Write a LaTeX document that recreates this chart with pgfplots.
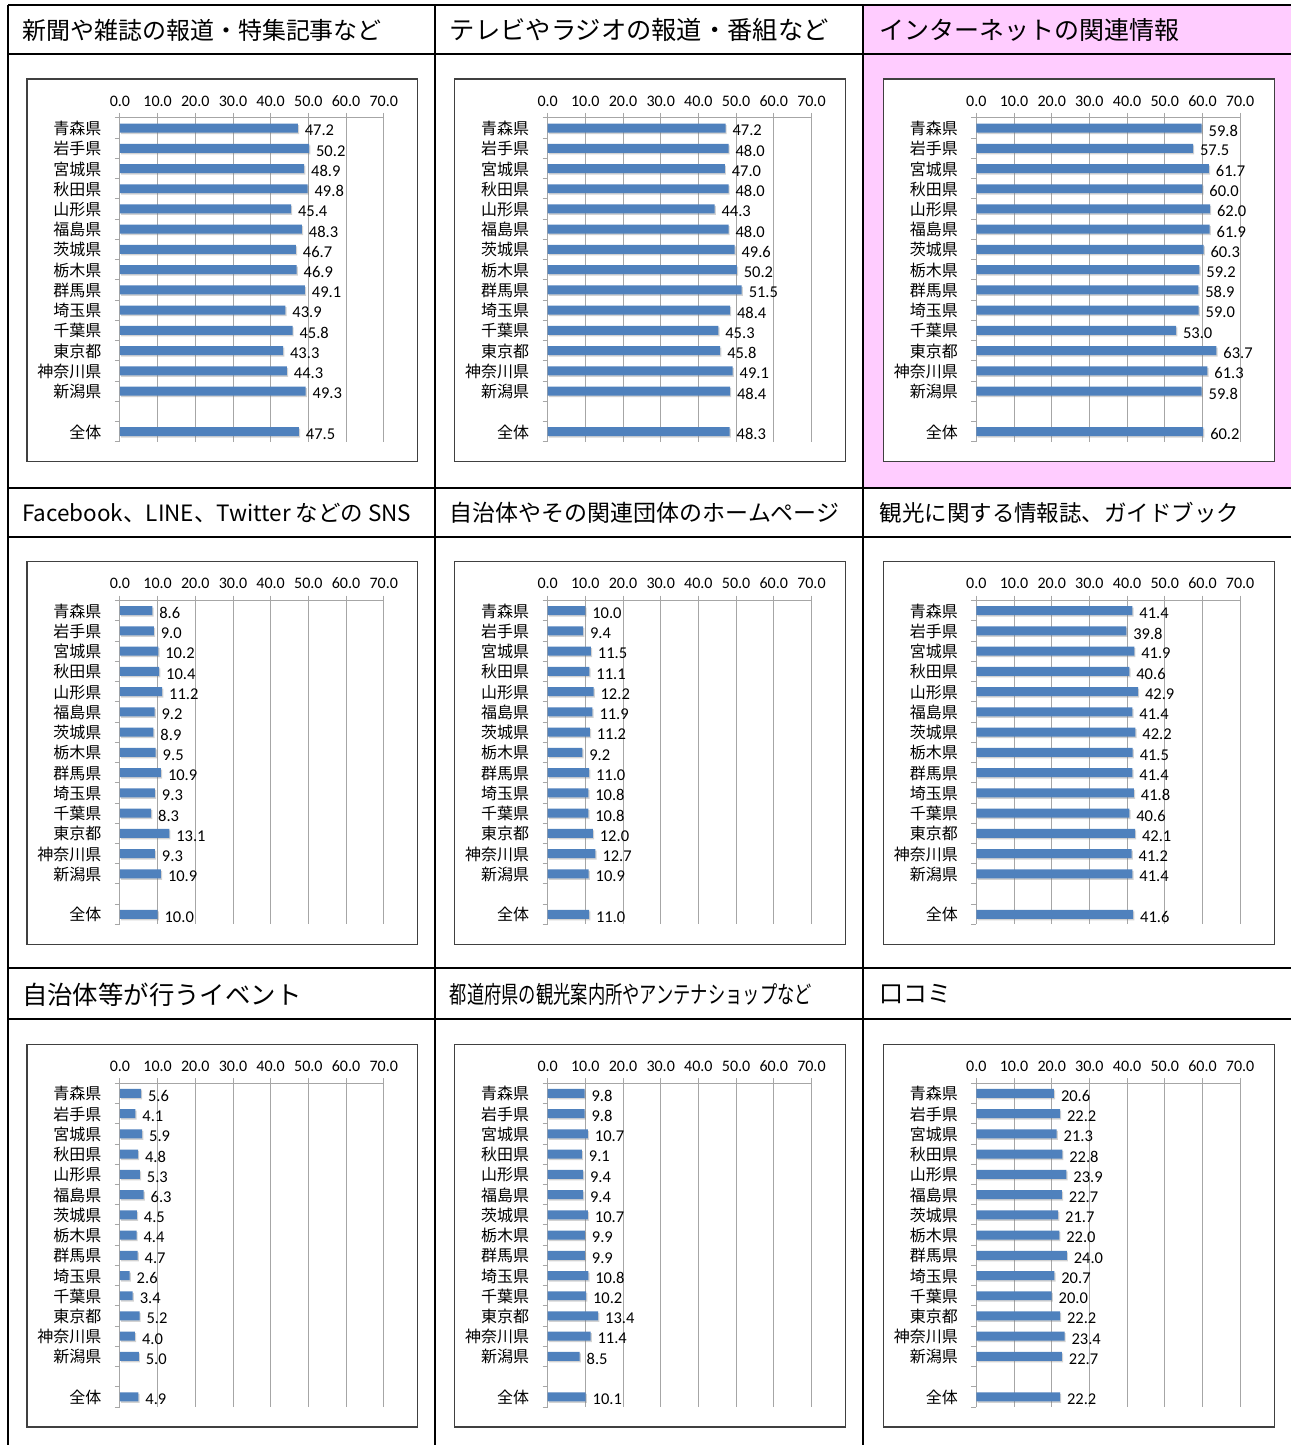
\documentclass[border=0pt]{standalone}
\usepackage{pgfplots}
\pgfplotsset{compat=1.18}
\usepackage{fontspec}
\setmainfont{Carlito}
\newfontfamily\jp{Noto Sans CJK JP}
\usetikzlibrary{shadows}
\definecolor{barblue}{HTML}{4F81BD}
\definecolor{pinkbg}{HTML}{FFCCFF}
\definecolor{boxgray}{HTML}{404040}
\definecolor{axgray}{HTML}{A6A6A6}

\pgfplotsset{panelstyle/.style={
  anchor=north west, scale only axis, width=264pt, height=324pt,
  xmin=0, xmax=70, ymin=-0.5, ymax=15.5, y dir=reverse,
  xbar, bar width=9pt, clip=false,
  axis x line=top, axis y line=left, axis line style={-, draw=axgray, line width=0.9pt},
  tick align=outside, major tick length=5pt,
  tick style={draw=axgray, line width=0.9pt},
  xtick={0,10,...,70},
  xmajorgrids, grid style={draw=axgray, line width=0.9pt},
  ytick={-0.5,0.5,...,15.5},
  yticklabels={青森県,岩手県,宮城県,秋田県,山形県,福島県,茨城県,栃木県,群馬県,埼玉県,千葉県,東京都,神奈川県,新潟県,{},全体,{}},
  yticklabel style={font=\jp\fontsize{16}{16}\selectfont, yshift=-10.6pt, xshift=-10pt},
  xticklabel style={font=\fontsize{16}{16}\selectfont, yshift=3pt},
  /pgf/number format/fixed, /pgf/number format/fixed zerofill,
  /pgf/number format/precision=1, /pgf/number format/assume math mode=true,
  nodes near coords,
  every node near coord/.append style={font=\fontsize{16.5}{16.5}\selectfont, text=black, xshift=3.5pt, yshift=-2.5pt},
}}

\newcommand{\panel}[3]{%
  \draw[boxgray, line width=1.2pt, fill=white] (#1pt-93pt,-#2pt+39pt) rectangle (#1pt+298pt,-#2pt-344pt);
  \begin{axis}[panelstyle, at={(#1pt,-#2pt)}]
  \addplot[fill=barblue, draw=none, drop shadow={shadow xshift=1.2pt, shadow yshift=-1.5pt, opacity=0.35}] coordinates {#3};
  \end{axis}}

\begin{document}
\begin{tikzpicture}
\path (0pt,0pt) rectangle (1292pt,-1446pt);
\fill[pinkbg] (864pt,-5pt) rectangle (1292pt,-488pt);
% grid lines
\foreach \yy in {5,54,488,537,969,1020} \draw[black, line width=2pt] (8pt,-\yy pt) -- (1292pt,-\yy pt);
\foreach \xx in {8,435,864} \draw[black, line width=2pt] (\xx pt,-5pt) -- (\xx pt,-1446pt);
% titles
\node[anchor=west, inner sep=0pt] at (22pt,-30pt) {\jp\fontsize{24}{24}\selectfont 新聞や雑誌の報道・特集記事など};
\node[anchor=west, inner sep=0pt] at (450pt,-30pt) {\jp\fontsize{25.3}{25.3}\selectfont テレビやラジオの報道・番組など};
\node[anchor=west, inner sep=0pt] at (880pt,-30pt) {\jp\fontsize{25}{25}\selectfont インターネットの関連情報};
\node[anchor=west, inner sep=0pt] at (22pt,-513pt) {\jp\fontsize{22.5}{22.5}\selectfont Facebook、LINE、Twitter などの SNS};
\node[anchor=west, inner sep=0pt] at (450pt,-513pt) {\jp\fontsize{23}{23}\selectfont 自治体やその関連団体のホームページ};
\node[anchor=west, inner sep=0pt] at (880pt,-513pt) {\jp\fontsize{22.5}{22.5}\selectfont 観光に関する情報誌、ガイドブック};
\node[anchor=west, inner sep=0pt] at (22pt,-995pt) {\jp\fontsize{25.4}{25.4}\selectfont 自治体等が行うイベント};
\node[anchor=west, inner sep=0pt] at (450pt,-995pt) {\scalebox{0.72}[1]{\jp\fontsize{24}{24}\selectfont 都道府県の観光案内所やアンテナショップなど}};
\node[anchor=west, inner sep=0pt] at (880pt,-995pt) {\jp\fontsize{24}{24}\selectfont 口コミ};

\panel{120}{118}{(47.2,0) (50.2,1) (48.9,2) (49.8,3) (45.4,4) (48.3,5) (46.7,6) (46.9,7) (49.1,8) (43.9,9) (45.8,10) (43.3,11) (44.3,12) (49.3,13) (47.5,15)}
\panel{548}{118}{(47.2,0) (48.0,1) (47.0,2) (48.0,3) (44.3,4) (48.0,5) (49.6,6) (50.2,7) (51.5,8) (48.4,9) (45.3,10) (45.8,11) (49.1,12) (48.4,13) (48.3,15)}
\panel{977}{118}{(59.8,0) (57.5,1) (61.7,2) (60.0,3) (62.0,4) (61.9,5) (60.3,6) (59.2,7) (58.9,8) (59.0,9) (53.0,10) (63.7,11) (61.3,12) (59.8,13) (60.2,15)}
\panel{120}{601}{(8.6,0) (9.0,1) (10.2,2) (10.4,3) (11.2,4) (9.2,5) (8.9,6) (9.5,7) (10.9,8) (9.3,9) (8.3,10) (13.1,11) (9.3,12) (10.9,13) (10.0,15)}
\panel{548}{601}{(10.0,0) (9.4,1) (11.5,2) (11.1,3) (12.2,4) (11.9,5) (11.2,6) (9.2,7) (11.0,8) (10.8,9) (10.8,10) (12.0,11) (12.7,12) (10.9,13) (11.0,15)}
\panel{977}{601}{(41.4,0) (39.8,1) (41.9,2) (40.6,3) (42.9,4) (41.4,5) (42.2,6) (41.5,7) (41.4,8) (41.8,9) (40.6,10) (42.1,11) (41.2,12) (41.4,13) (41.6,15)}
\panel{120}{1084}{(5.6,0) (4.1,1) (5.9,2) (4.8,3) (5.3,4) (6.3,5) (4.5,6) (4.4,7) (4.7,8) (2.6,9) (3.4,10) (5.2,11) (4.0,12) (5.0,13) (4.9,15)}
\panel{548}{1084}{(9.8,0) (9.8,1) (10.7,2) (9.1,3) (9.4,4) (9.4,5) (10.7,6) (9.9,7) (9.9,8) (10.8,9) (10.2,10) (13.4,11) (11.4,12) (8.5,13) (10.1,15)}
\panel{977}{1084}{(20.6,0) (22.2,1) (21.3,2) (22.8,3) (23.9,4) (22.7,5) (21.7,6) (22.0,7) (24.0,8) (20.7,9) (20.0,10) (22.2,11) (23.4,12) (22.7,13) (22.2,15)}
\end{tikzpicture}
\end{document}
